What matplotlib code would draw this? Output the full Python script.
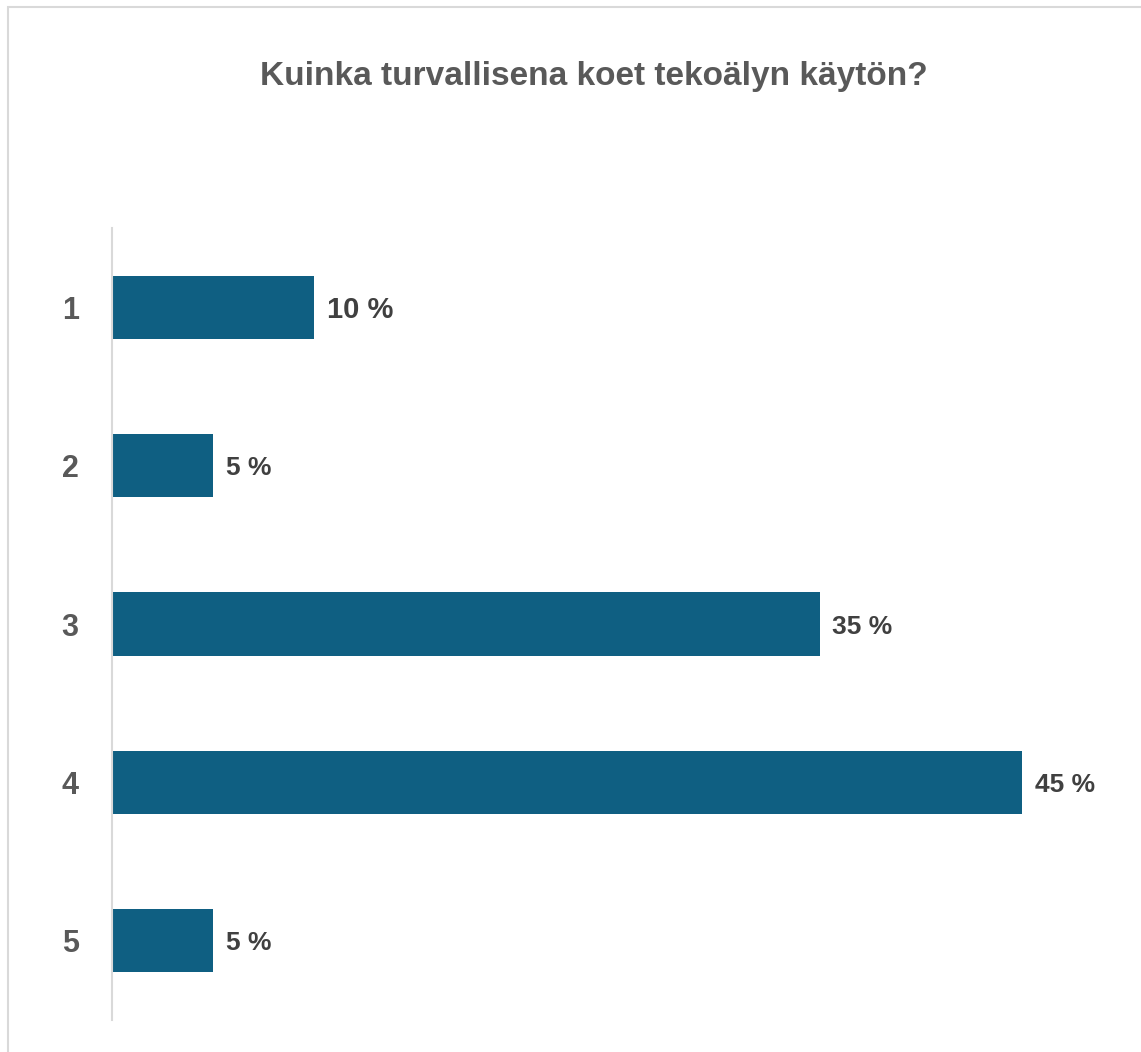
import matplotlib
matplotlib.use("Agg")
import matplotlib.pyplot as plt
from matplotlib.patches import Rectangle

categories = ["1", "2", "3", "4", "5"]
values = [10, 5, 35, 45, 5]
labels = ["10 %", "5 %", "35 %", "45 %", "5 %"]
label_sizes = [21, 19, 19, 19, 19]
title = "Kuinka turvallisena koet tekoälyn käytön?"

FONT = ["Liberation Sans", "DejaVu Sans"]
W, H = 1141, 1052
fig = plt.figure(figsize=(W / 100, H / 100), dpi=100)

# light frame round the chart area (cut off at right and bottom)
fig.patches.append(Rectangle((8 / W, -0.2), 1.2, 1.2 - 7 / H, transform=fig.transFigure,
                             fill=False, edgecolor="#d9d9d9", linewidth=1.5))

ax = fig.add_axes([112 / W, 1 - 1020 / H, (1111 - 112) / W, (1020 - 228) / H])

pos = list(range(len(categories)))
ax.barh(pos, values, height=0.4, color="#0f5f82")

for p, v, lab, fs in zip(pos, values, labels, label_sizes):
    ax.annotate(lab, (v, p), xytext=(9, 0), textcoords="offset points",
                va="center_baseline", ha="left", fontsize=fs, fontweight="bold",
                color="#404040", family=FONT)

ax.set_xlim(0, 49.4)
ax.set_ylim(4.5, -0.5)
ax.set_yticks(pos)
ax.set_yticklabels(categories, fontsize=22, fontweight="bold", color="#595959",
                   family=FONT, va="center_baseline")
ax.tick_params(axis="y", length=0, pad=24)
ax.set_xticks([])

for s in ["top", "right", "bottom"]:
    ax.spines[s].set_visible(False)
ax.spines["left"].set_color("#d9d9d9")
ax.spines["left"].set_linewidth(1.5)

fig.text(594 / W, 1 - 76 / H, title, ha="center", va="center", fontsize=24,
         fontweight="bold", color="#595959", family=FONT)

fig.savefig("out.png", dpi=100)
